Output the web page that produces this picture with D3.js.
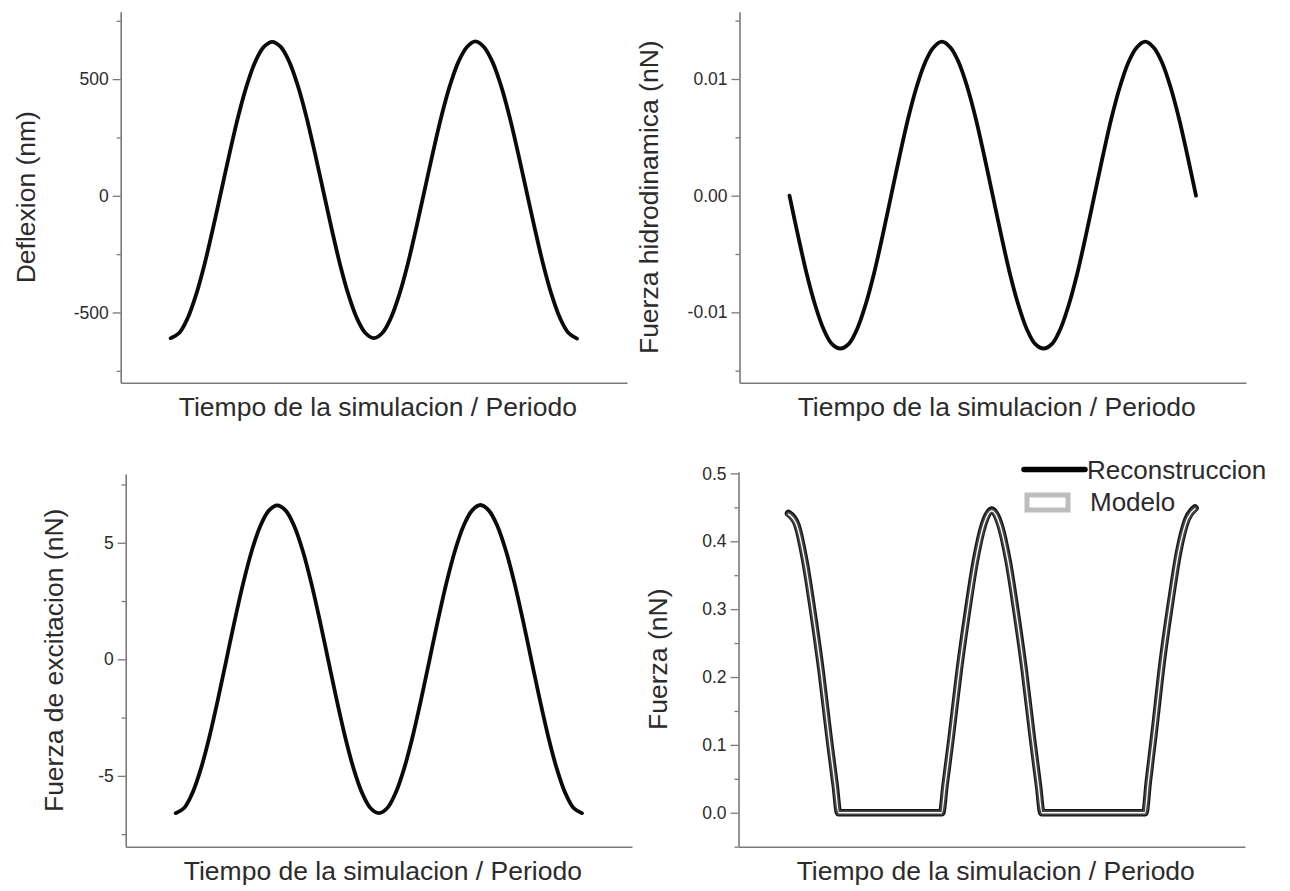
<!DOCTYPE html>
<html>
<head>
<meta charset="utf-8">
<script src="https://cdn.jsdelivr.net/npm/d3@7"></script>
<style>
  html, body { margin: 0; padding: 0; background: #ffffff; }
  svg { display: block; }
  text { font-family: "Liberation Sans", Arial, sans-serif; fill: #2b2b2b; }
</style>
</head>
<body>
<svg id="chart" width="1290" height="891"></svg>
<script>
// ---------- DATA ----------
// time in periods (shared by the three sinusoidal panels)
const tiempo = [0, 0.0417, 0.0833, 0.125, 0.1667, 0.2083, 0.25, 0.2917, 0.3333, 0.375, 0.4167, 0.4583,
  0.5, 0.5417, 0.5833, 0.625, 0.6667, 0.7083, 0.75, 0.7917, 0.8333, 0.875, 0.9167, 0.9583,
  1, 1.0417, 1.0833, 1.125, 1.1667, 1.2083, 1.25, 1.2917, 1.3333, 1.375, 1.4167, 1.4583,
  1.5, 1.5417, 1.5833, 1.625, 1.6667, 1.7083, 1.75, 1.7917, 1.8333, 1.875, 1.9167, 1.9583, 2];

const deflexion = [-610, -588, -525, -424, -293, -139, 25, 189, 343, 474, 575, 638,
  660, 638, 575, 474, 343, 189, 25, -139, -293, -424, -525, -588,
  -610, -588, -525, -424, -293, -139, 25, 189, 343, 474, 575, 638,
  662, 638, 575, 474, 343, 189, 25, -139, -293, -424, -525, -588, -612];

const fuerzaHidro = [0, -0.0034, -0.0066, -0.0093, -0.0114, -0.0127, -0.0131, -0.0127, -0.0114, -0.0093, -0.0066, -0.0034,
  0, 0.0034, 0.0066, 0.0093, 0.0114, 0.0127, 0.0132, 0.0127, 0.0114, 0.0093, 0.0066, 0.0034,
  0, -0.0034, -0.0066, -0.0093, -0.0114, -0.0127, -0.0131, -0.0127, -0.0114, -0.0093, -0.0066, -0.0034,
  0, 0.0034, 0.0066, 0.0093, 0.0114, 0.0127, 0.0132, 0.0127, 0.0114, 0.0093, 0.0066, 0.0034, 0];

const fuerzaExcitacion = [-6.6, -6.38, -5.72, -4.67, -3.3, -1.71, 0, 1.71, 3.3, 4.67, 5.72, 6.38,
  6.6, 6.38, 5.72, 4.67, 3.3, 1.71, 0, -1.71, -3.3, -4.67, -5.72, -6.38,
  -6.6, -6.38, -5.72, -4.67, -3.3, -1.71, 0, 1.71, 3.3, 4.67, 5.72, 6.38,
  6.62, 6.38, 5.72, 4.67, 3.3, 1.71, 0, -1.71, -3.3, -4.67, -5.72, -6.38, -6.6];

// tip-sample force panel (own time samples)
const fuerzaTiempo = [0, 0.04, 0.08, 0.12, 0.16, 0.2, 0.23, 0.247, 0.753, 0.77, 0.8, 0.84, 0.88, 0.92, 0.96,
  1, 1.04, 1.08, 1.12, 1.16, 1.2, 1.23, 1.247, 1.753, 1.77, 1.8, 1.84, 1.88, 1.92, 1.96, 2];
const reconstruccion = [0.441, 0.425, 0.372, 0.296, 0.21, 0.11, 0.04, 0, 0, 0.04, 0.11, 0.21, 0.296, 0.372, 0.425,
  0.446, 0.425, 0.372, 0.296, 0.21, 0.11, 0.04, 0, 0, 0.045, 0.12, 0.225, 0.31, 0.385, 0.432, 0.449];
const modelo = [0.440, 0.424, 0.371, 0.295, 0.209, 0.109, 0.039, 0, 0, 0.04, 0.11, 0.21, 0.295, 0.371, 0.424,
  0.445, 0.424, 0.371, 0.295, 0.209, 0.109, 0.039, 0, 0, 0.045, 0.12, 0.225, 0.31, 0.385, 0.431, 0.448];

// axis ticks and labels
const deflexionTicks = [-500, 0, 500];
const deflexionTickLabels = ["-500", "0", "500"];
const deflexionMinor = [-750, -250, 250, 750];

const hidroTicks = [-0.01, 0, 0.01];
const hidroTickLabels = ["-0.01", "0.00", "0.01"];
const hidroMinor = [-0.015, -0.005, 0.005, 0.015];

const excitacionTicks = [-5, 0, 5];
const excitacionTickLabels = ["-5", "0", "5"];
const excitacionMinor = [-7.5, -2.5, 2.5, 7.5];

const fuerzaTicks = [0, 0.1, 0.2, 0.3, 0.4, 0.5];
const fuerzaTickLabels = ["0.0", "0.1", "0.2", "0.3", "0.4", "0.5"];
const fuerzaMinor = [-0.05, 0.05, 0.15, 0.25, 0.35, 0.45];

const xTitle = "Tiempo de la simulacion / Periodo";
const legendLabels = ["Reconstruccion", "Modelo"];

// ---------- DRAW ----------
const svg = d3.select("#chart");
const xDomain = [-0.246, 2.246];

const panels = [
  { x0: 120.7, x1: 627, yTop: 11.7, yBot: 382.7, yDomain: [-801, 789],
    ticks: deflexionTicks, labels: deflexionTickLabels, minor: deflexionMinor,
    title: "Deflexion (nm)", titleX: 25, series: [{ t: tiempo, v: deflexion }] },
  { x0: 739.5, x1: 1246, yTop: 11.7, yBot: 382.7, yDomain: [-0.01603, 0.01577],
    ticks: hidroTicks, labels: hidroTickLabels, minor: hidroMinor,
    title: "Fuerza hidrodinamica (nN)", titleX: 648, series: [{ t: tiempo, v: fuerzaHidro }] },
  { x0: 125.7, x1: 632, yTop: 474, yBot: 846.7, yDomain: [-8.04, 7.95],
    ticks: excitacionTicks, labels: excitacionTickLabels, minor: excitacionMinor,
    title: "Fuerza de excitacion (nN)", titleX: 53, series: [{ t: tiempo, v: fuerzaExcitacion }] },
  { x0: 738.5, x1: 1245, yTop: 471.7, yBot: 846.7, yDomain: [-0.05, 0.5025],
    ticks: fuerzaTicks, labels: fuerzaTickLabels, minor: fuerzaMinor,
    title: "Fuerza (nN)", titleX: 657, series: [], force: true }
];

const axisColor = "#7a7a7a";

panels.forEach(p => {
  const x = d3.scaleLinear().domain(xDomain).range([p.x0, p.x1]);
  const y = d3.scaleLinear().domain(p.yDomain).range([p.yBot, p.yTop]);
  const g = svg.append("g");

  // minor ticks
  const minorAxis = d3.axisLeft(y).tickValues(p.minor).tickSize(4).tickFormat("").tickSizeOuter(0);
  const gm = g.append("g").attr("transform", `translate(${p.x0},0)`).call(minorAxis);
  gm.select(".domain").remove();
  gm.selectAll("line").attr("stroke", axisColor).attr("stroke-width", 1.3);

  // major ticks
  const majorAxis = d3.axisLeft(y).tickValues(p.ticks).tickSize(8).tickPadding(4).tickSizeOuter(0)
    .tickFormat((d, i) => p.labels[i]);
  const ga = g.append("g").attr("transform", `translate(${p.x0},0)`).call(majorAxis);
  ga.select(".domain").attr("stroke", axisColor).attr("stroke-width", 1.6);
  ga.selectAll(".tick line").attr("stroke", axisColor).attr("stroke-width", 1.3);
  ga.selectAll(".tick text").attr("font-size", 17.5).attr("fill", "#333")
    .style("font-family", '"Liberation Sans", Arial, sans-serif');

  // x axis (no ticks)
  const xAxis = d3.axisBottom(x).tickValues([]).tickSizeOuter(0);
  const gx = g.append("g").attr("transform", `translate(0,${p.yBot})`).call(xAxis);
  gx.select(".domain").attr("stroke", axisColor).attr("stroke-width", 1.6);

  // titles
  g.append("text")
    .attr("x", (p.x0 + p.x1) / 2 + 4).attr("y", p.yBot + 33)
    .attr("text-anchor", "middle").attr("font-size", 26.5)
    .text(xTitle);
  g.append("text")
    .attr("transform", `translate(${p.titleX},${(p.yTop + p.yBot) / 2}) rotate(-90)`)
    .attr("text-anchor", "middle").attr("dy", "0.36em").attr("font-size", 26.5)
    .text(p.title);

  // series
  p.series.forEach(s => {
    const line = d3.line().x((d, i) => x(s.t[i])).y(d => y(d)).curve(d3.curveCatmullRom.alpha(0.5));
    g.append("path").datum(s.v).attr("d", line)
      .attr("fill", "none").attr("stroke", "#0a0a0a").attr("stroke-width", 3.8)
      .attr("stroke-linejoin", "round").attr("stroke-linecap", "round");
  });

  if (p.force) {
    const line = d3.line().x((d, i) => x(fuerzaTiempo[i])).y(d => y(d)).curve(d3.curveMonotoneX);
    g.append("path").datum(reconstruccion).attr("d", line)
      .attr("fill", "none").attr("stroke", "#151515").attr("stroke-width", 7.5)
      .attr("stroke-linejoin", "round").attr("stroke-linecap", "round");
    g.append("path").datum(modelo).attr("d", line)
      .attr("fill", "none").attr("stroke", "#454545").attr("stroke-width", 5)
      .attr("stroke-linejoin", "round").attr("stroke-linecap", "round");
    g.append("path").datum(modelo).attr("d", line)
      .attr("fill", "none").attr("stroke", "#ffffff").attr("stroke-width", 1.3)
      .attr("stroke-linejoin", "round").attr("stroke-linecap", "round");

    // legend
    const lg = svg.append("g");
    lg.append("line").attr("x1", 1024).attr("x2", 1085).attr("y1", 469.5).attr("y2", 469.5)
      .attr("stroke", "#000").attr("stroke-width", 5.5).attr("stroke-linecap", "round");
    lg.append("text").attr("x", 1087).attr("y", 469.5).attr("dy", "0.36em")
      .attr("font-size", 26).text(legendLabels[0]);
    lg.append("rect").attr("x", 1027).attr("y", 495).attr("width", 41).attr("height", 15)
      .attr("fill", "#fff").attr("stroke", "#bdbdbd").attr("stroke-width", 5);
    lg.append("text").attr("x", 1090).attr("y", 502).attr("dy", "0.36em")
      .attr("font-size", 26).text(legendLabels[1]);
  }
});
</script>
</body>
</html>
